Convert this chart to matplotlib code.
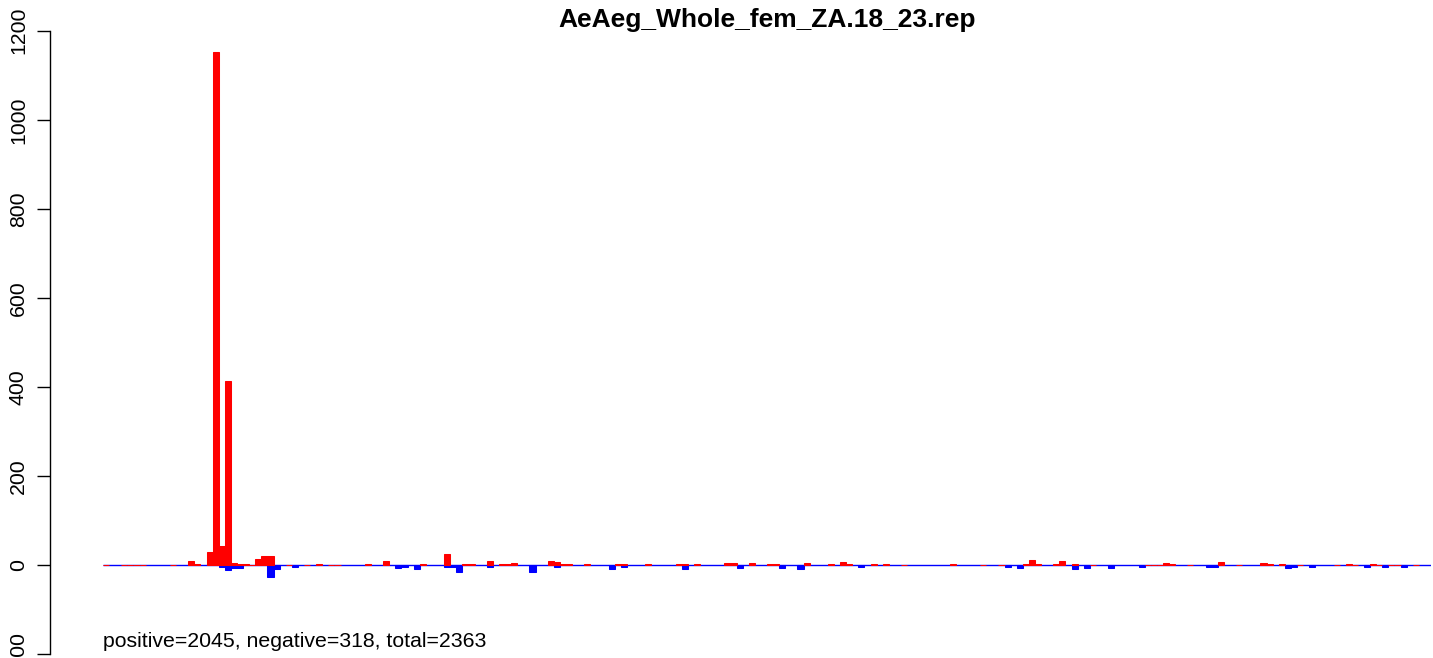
import matplotlib
matplotlib.use('Agg')
import matplotlib.pyplot as plt
import numpy as np

plt.rcParams['font.family'] = ['Liberation Sans', 'DejaVu Sans']

# ---------------- data ----------------
title = "AeAeg_Whole_fem_ZA.18_23.rep"
summary = "positive=2045, negative=318, total=2363"
n_bins = 218

pos_bins = [0, 3, 4, 5, 6, 11,
            14, 15, 17, 18, 19, 20, 21, 22, 23, 24, 25, 26, 27,
            30, 33, 35, 37, 38,
            43, 46, 52, 56, 59, 60, 63, 65, 66, 67, 73, 74, 75, 76, 79,
            84, 85, 89, 94, 95, 97, 102, 103, 106, 109, 110, 115, 119,
            121, 122, 126, 128, 131, 139, 144, 147, 151, 152, 153, 156, 157, 159,
            162, 171, 172, 173, 174, 175, 178, 183, 186, 190, 191, 193, 196,
            202, 204, 205, 208, 209, 211, 212, 215]
pos_counts = [1, 1, 1, 1, 1, 1,
              9, 2, 29, 1153, 42, 413, 5, 2, 3, 1, 13, 20, 20,
              1, 1, 3, 1, 1,
              3, 10, 3, 25, 3, 3, 10, 3, 3, 5, 10, 7, 3, 3, 3,
              3, 3, 3, 3, 3, 3, 5, 5, 5, 3, 3, 5, 3,
              7, 3, 3, 3, 1, 3, 1, 1, 3, 11, 3, 3, 9, 3,
              1, 1, 1, 1, 5, 3, 1, 7, 1, 5, 3, 3, 1,
              1, 3, 1, 3, 1, 1, 1, 1]

neg_bins = [19, 20, 21, 22, 27, 28, 31,
            48, 49, 51, 56, 57, 58, 63, 70, 74, 83, 85, 95,
            104, 111, 114, 124, 148, 150, 159, 161, 165, 170,
            181, 182, 194, 195, 198, 207, 210, 213]
neg_counts = [-4, -11, -6, -6, -26, -8, -4,
              -6, -4, -10, -4, -4, -15, -4, -15, -4, -8, -4, -8,
              -6, -6, -8, -4, -4, -6, -10, -6, -6, -4,
              -4, -4, -6, -4, -4, -4, -4, -4]

y_ticks = [-200, 0, 200, 400, 600, 800, 1000, 1200]

# ---------------- figure ----------------
W, H = 1433, 658
fig = plt.figure(figsize=(W / 100, H / 100), dpi=100)

x_left_px, x_right_px = 103, 1431
zero_px, top_tick_px = 565.0, 30.8
ppu = (zero_px - top_tick_px) / 1200.0
ax_top_px = 20
y_top = (zero_px - ax_top_px) / ppu
y_bot = (zero_px - H) / ppu

ax = fig.add_axes([x_left_px / W, 0, (x_right_px - x_left_px) / W, (H - ax_top_px) / H])
ax.set_xlim(0, n_bins)
ax.set_ylim(y_bot, y_top)

# baseline (zero-height bars)
ax.plot([0, n_bins], [0, 0], color='blue', lw=1.0, solid_capstyle='butt', zorder=1)

ax.bar(neg_bins, neg_counts, width=1, align='edge', color='blue',
       edgecolor='blue', linewidth=0.75, zorder=2)
ax.bar(pos_bins, pos_counts, width=1, align='edge', color='red',
       edgecolor='red', linewidth=0.75, zorder=3)

for s in ('top', 'right', 'bottom'):
    ax.spines[s].set_visible(False)
ax.spines['left'].set_position(('outward', 53 * 0.72))
ax.spines['left'].set_bounds(-200, 1200)
ax.spines['left'].set_linewidth(1.0)
ax.set_xticks([])
ax.set_yticks(y_ticks)
ax.set_yticklabels([str(v) for v in y_ticks])
ax.tick_params(axis='y', length=9.4, width=1.0, labelsize=15.3, pad=6.5,
               labelrotation=90)
for lab in ax.get_yticklabels():
    lab.set_va('center')
ax.patch.set_visible(False)

fig.text(767 / W, 1 - 27 / H, title, ha='center', va='baseline',
         fontsize=19, fontweight='bold')
fig.text(103 / W, 1 - 647 / H, summary, ha='left', va='baseline', fontsize=15.3)

fig.savefig('out.png', dpi=100)
